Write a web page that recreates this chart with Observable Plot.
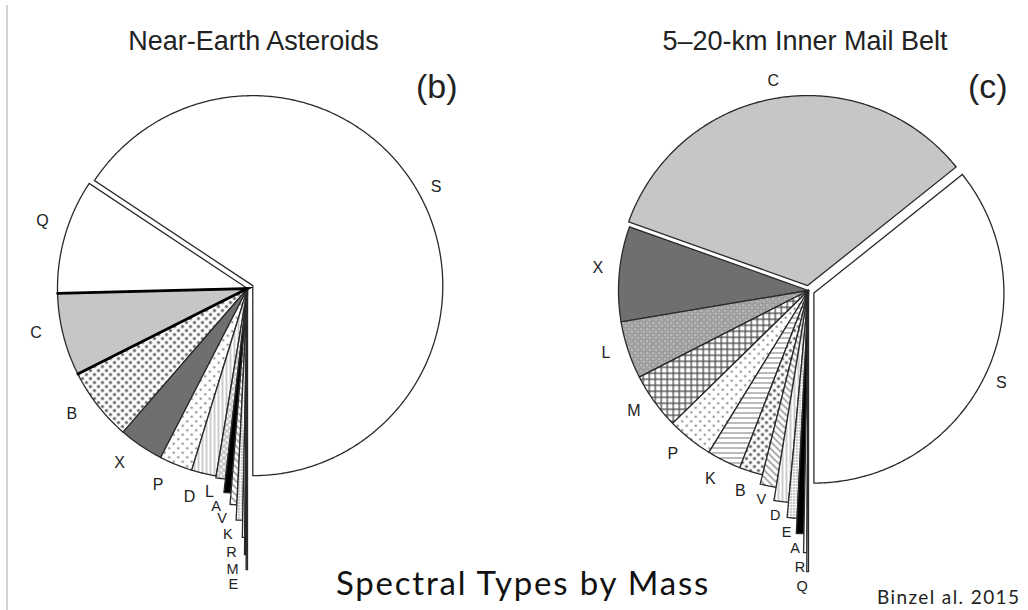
<!DOCTYPE html>
<html><head><meta charset="utf-8">
<script src="https://cdn.jsdelivr.net/npm/d3@7"></script>
<script src="https://cdn.jsdelivr.net/npm/@observablehq/plot@0.6"></script>
<style>
body{margin:0;background:#fff;}
#wrap{position:relative;width:1028px;height:610px;overflow:hidden;font-family:"Liberation Sans",Arial,sans-serif;color:#222}
#chart{position:absolute;left:0;top:0}
.t{position:absolute;line-height:1;white-space:nowrap}
.cap{font-family:Lato,"Open Sans",sans-serif;color:#111}
</style></head><body>
<div id="wrap">
<div id="chart"></div>
<div style="position:absolute;left:6px;top:5px;width:2px;height:605px;background:#d2d2d2"></div>
<div class="t" style="left:0;width:507px;text-align:center;top:28px;font-size:27px">Near-Earth Asteroids</div>
<div class="t" style="left:605px;width:400px;text-align:center;top:28px;font-size:27px">5–20-km Inner Mail Belt</div>
<div class="t" style="left:416px;top:69px;font-size:34px">(b)</div>
<div class="t" style="left:968px;top:69px;font-size:34px">(c)</div>
<div class="t cap" style="left:0;width:1046px;text-align:center;top:566px;font-size:33px;letter-spacing:1.8px">Spectral Types by Mass</div>
<div class="t cap" style="left:877px;top:587px;font-size:19px;letter-spacing:1.4px;color:#222">Binzel al. 2015</div>
</div>
<script>
// ---- data (percent of mass by spectral type) ----
const typesNEA = ["S","Q","C","B","X","P","D","L","A","V","K","R","M","E"];
const massNEA  = [65.5, 9.7, 7.0, 6.2, 3.8, 2.8, 2.1, 0.8, 0.55, 0.5, 0.45, 0.15, 0.1, 0.08];
const typesIMB = ["S","C","X","L","M","P","K","B","V","D","E","A","R","Q"];
const massIMB  = [35.8, 33.9, 8.1, 4.9, 4.8, 3.9, 2.9, 2.0, 1.3, 1.1, 0.7, 0.5, 0.2, 0.1];

// ---- styles ----
const stylesNEA = {
  S:{fill:"#fff"}, Q:{fill:"#fff"}, C:{fill:"#c6c6c8", edge:2.8},
  B:{fill:"url(#dotsDense)"}, X:{fill:"#6f6f6f"}, P:{fill:"url(#dotsSparse)"},
  D:{fill:"url(#vlines)"}, L:{fill:"url(#rings)"}, A:{fill:"#000"},
  V:{fill:"url(#diag)"}, K:{fill:"url(#fine)"}, R:{fill:"#fff"}, M:{fill:"#111"}, E:{fill:"#fff"}
};
const stylesIMB = {
  S:{fill:"#fff"}, C:{fill:"#c6c6c8"}, X:{fill:"#6f6f6f"}, L:{fill:"url(#ringsGray)"},
  M:{fill:"url(#grid)"}, P:{fill:"url(#dotsSparse)"}, K:{fill:"url(#hlines)"},
  B:{fill:"url(#dotsDense)"}, V:{fill:"url(#diag)"}, D:{fill:"url(#vlines)"},
  E:{fill:"url(#fine)"}, A:{fill:"#000"}, R:{fill:"#fff"}, Q:{fill:"#fff"}
};
const layoutNEA = {cx:247, cy:288, r:190, explode:{S:6},
  extend:{L:1.01, A:1.08, V:1.14, K:1.22, R:1.31, M:1.40, E:1.48},
  gap:26, gapExt:15, shift:0.04, shiftExt:0.045};
const layoutIMB = {cx:808, cy:290, r:190, explode:{S:6, C:5},
  extend:{V:1.05, D:1.12, E:1.2, A:1.28, R:1.38, Q:1.48},
  gap:22, gapExt:15, shift:0.02, shiftExt:0.018};

const W = 1028, H = 610;
const pts = [], edges = [], labels = [];
function buildPie(types, mass, styles, lay, id) {
  const arcs = d3.pie().sort(null).value(d => d.v)
    .startAngle(Math.PI).endAngle(-Math.PI)(types.map((t, i) => ({t, v: mass[i]})));
  for (const a of arcs) {
    const t = a.data.t, st = styles[t];
    const mid = (a.startAngle + a.endAngle) / 2;
    const off = lay.explode[t] || 0;
    const ext = lay.extend[t];
    const ox = lay.cx + off * Math.sin(mid), oy = lay.cy - off * Math.cos(mid);
    const rr = lay.r * (ext || 1);
    const key = id + t;
    const base = {key, fill: st.fill};
    const n = Math.max(2, Math.ceil(Math.abs(a.endAngle - a.startAngle) / 0.01));
    pts.push({...base, x: ox, y: oy});
    for (let i = 0; i <= n; i++) {
      const ang = a.startAngle + (a.endAngle - a.startAngle) * i / n;
      pts.push({...base, x: ox + rr * Math.sin(ang), y: oy - rr * Math.cos(ang)});
    }
    pts.push({...base, x: ox, y: oy});
    if (st.edge) {
      edges.push({key: key + "e", w: st.edge, x: ox + rr * Math.sin(a.startAngle), y: oy - rr * Math.cos(a.startAngle)});
      edges.push({key: key + "e", w: st.edge, x: ox, y: oy});
      edges.push({key: key + "e", w: st.edge, x: ox + rr * Math.sin(a.endAngle), y: oy - rr * Math.cos(a.endAngle)});
    }
    const la = mid + (off ? 0 : (ext ? lay.shiftExt : lay.shift));
    const lr = rr + off + (off ? 18 : (ext ? lay.gapExt : lay.gap));
    labels.push({t, fs: ext && ext > 1.02 ? 14.5 : 16, x: lay.cx + lr * Math.sin(la), y: lay.cy - lr * Math.cos(la)});
  }
}
buildPie(typesNEA, massNEA, stylesNEA, layoutNEA, "b");
buildPie(typesIMB, massIMB, stylesIMB, layoutIMB, "c");

const chart = Plot.plot({
  width: W, height: H, margin: 0,
  x: {domain: [0, W], range: [0, W], axis: null},
  y: {domain: [0, H], range: [0, H], axis: null},
  color: {type: "identity"},
  marks: [
    Plot.line(pts, {x: "x", y: "y", z: "key", fill: "fill", stroke: "#2a2a2a", strokeWidth: 1.3, strokeLinejoin: "miter", strokeMiterlimit: 4}),
    Plot.line(edges, {x: "x", y: "y", z: "key", stroke: "#000", strokeWidth: "w", strokeLinejoin: "miter", strokeMiterlimit: 8}),
    Plot.text(labels, {x: "x", y: "y", text: "t", fontSize: "fs", fill: "#222", fontFamily: "Liberation Sans, Arial, sans-serif"})
  ]
});

const ns = "http://www.w3.org/2000/svg";
const defs = document.createElementNS(ns, "defs");
defs.innerHTML = `
<pattern id="dotsDense" patternUnits="userSpaceOnUse" width="8" height="8">
  <rect width="8" height="8" fill="#fff"/>
  <circle cx="2" cy="2" r="1.6" fill="#555"/><circle cx="6" cy="6" r="1.6" fill="#555"/>
</pattern>
<pattern id="dotsSparse" patternUnits="userSpaceOnUse" width="9" height="9">
  <rect width="9" height="9" fill="#fff"/>
  <circle cx="2.25" cy="2.25" r="1.1" fill="#666"/><circle cx="6.75" cy="6.75" r="1.1" fill="#666"/>
</pattern>
<pattern id="vlines" patternUnits="userSpaceOnUse" width="4" height="4">
  <rect width="4" height="4" fill="#fff"/><line x1="2" y1="0" x2="2" y2="4" stroke="#999" stroke-width="1"/>
</pattern>
<pattern id="hlines" patternUnits="userSpaceOnUse" width="5" height="5">
  <rect width="5" height="5" fill="#fff"/><line x1="0" y1="2.5" x2="5" y2="2.5" stroke="#777" stroke-width="1"/>
</pattern>
<pattern id="rings" patternUnits="userSpaceOnUse" width="6" height="6">
  <rect width="6" height="6" fill="#fff"/>
  <circle cx="1.5" cy="1.5" r="1.3" fill="none" stroke="#777" stroke-width="0.9"/>
  <circle cx="4.5" cy="4.5" r="1.3" fill="none" stroke="#777" stroke-width="0.9"/>
</pattern>
<pattern id="ringsGray" patternUnits="userSpaceOnUse" width="6" height="6">
  <rect width="6" height="6" fill="#a8a8a8"/>
  <circle cx="1.5" cy="1.5" r="1.4" fill="#eee" stroke="#666" stroke-width="0.8"/>
  <circle cx="4.5" cy="4.5" r="1.4" fill="#eee" stroke="#666" stroke-width="0.8"/>
</pattern>
<pattern id="grid" patternUnits="userSpaceOnUse" width="6" height="6">
  <rect width="6" height="6" fill="#fff"/>
  <line x1="0" y1="0.7" x2="6" y2="0.7" stroke="#555" stroke-width="1.4"/>
  <line x1="0.7" y1="0" x2="0.7" y2="6" stroke="#555" stroke-width="1.4"/>
</pattern>
<pattern id="diag" patternUnits="userSpaceOnUse" width="7" height="7">
  <rect width="7" height="7" fill="#fff"/>
  <line x1="0" y1="0" x2="7" y2="7" stroke="#666" stroke-width="1.1"/>
  <line x1="-1" y1="6" x2="1" y2="8" stroke="#666" stroke-width="1.1"/>
  <line x1="6" y1="-1" x2="8" y2="1" stroke="#666" stroke-width="1.1"/>
</pattern>
<pattern id="fine" patternUnits="userSpaceOnUse" width="3" height="3">
  <rect width="3" height="3" fill="#fff"/><circle cx="1.5" cy="1.5" r="0.8" fill="#666"/>
</pattern>`;
chart.insertBefore(defs, chart.firstChild);
document.getElementById("chart").appendChild(chart);
</script>
</body></html>
